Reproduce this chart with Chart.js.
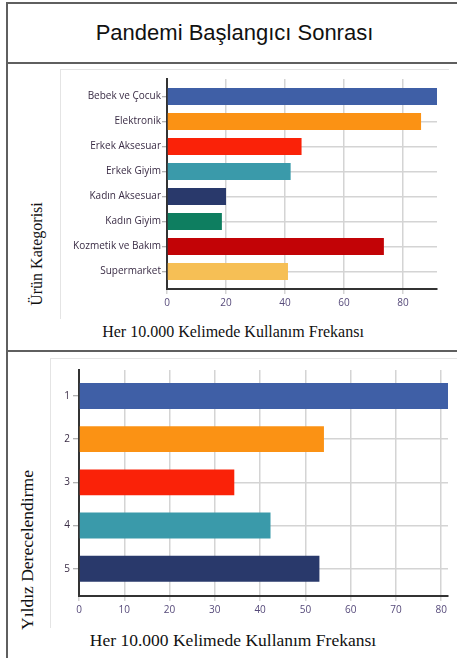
<!DOCTYPE html>
<html lang="tr">
<head>
<meta charset="utf-8">
<title>Pandemi Başlangıcı Sonrası</title>
<script src="https://cdn.jsdelivr.net/npm/chart.js@4/dist/chart.umd.min.js"></script>
<style>
  html, body { margin: 0; padding: 0; background: #fff; }
  body { width: 457px; height: 658px; position: relative; overflow: hidden; }
  .frame { position: absolute; left: 6px; top: 2px; width: 470px; height: 700px; border: 2px solid #5f5f5f; }
  .rule { position: absolute; left: 6px; width: 460px; height: 2px; background: #5f5f5f; }
  .heading {
    position: absolute; left: 0; width: 469px; top: 20px; text-align: center;
    font: 22px "Liberation Sans", Arial, sans-serif; color: #111;
  }
  .panel { position: absolute; border-left: 1px solid #e4e4e4; border-top: 1px solid #e4e4e4; }
  canvas { position: absolute; }
  .axis-title {
    position: absolute; white-space: nowrap; color: #111;
    font-family: "Liberation Serif", "Times New Roman", serif;
    transform: translate(-50%, -50%);
  }
  .axis-title.vertical { transform: translate(-50%, -50%) rotate(-90deg); }
</style>
</head>
<body>
<div class="frame"></div>
<div class="rule" style="top:62px"></div>
<div class="rule" style="top:350px"></div>
<div class="heading">Pandemi Başlangıcı Sonrası</div>

<div class="panel" style="left:60px; top:69px; width:388px; height:249px"></div>
<canvas id="category-chart" width="392" height="249" style="left:60px; top:69px"></canvas>
<div class="axis-title vertical" style="left:37px; top:254px; font-size:16px">Ürün Kategorisi</div>
<div class="axis-title" style="left:233px; top:332px; font-size:16px">Her 10.000 Kelimede Kullanım Frekansı</div>

<div class="panel" style="left:50px; top:358px; width:410px; height:269px"></div>
<canvas id="rating-chart" width="407" height="269" style="left:50px; top:358px"></canvas>
<div class="axis-title vertical" style="left:27px; top:550px; font-size:17.5px">Yıldız Derecelendirme</div>
<div class="axis-title" style="left:233px; top:640px; font-size:17.5px">Her 10.000 Kelimede Kullanım Frekansı</div>

<script>
const CATEGORIES = [
  "Bebek ve Çocuk",
  "Elektronik",
  "Erkek Aksesuar",
  "Erkek Giyim",
  "Kadın Aksesuar",
  "Kadın Giyim",
  "Kozmetik ve Bakım",
  "Supermarket",
];
const CATEGORY_FREQ = [91.5, 86.1, 45.6, 41.9, 20, 18.6, 73.5, 41];
const CATEGORY_TICKS = [0, 20, 40, 60, 80];

const RATINGS = ["1", "2", "3", "4", "5"];
const RATING_FREQ = [81.5, 54.1, 34.3, 42.3, 53.1];
const RATING_TICKS = [0, 10, 20, 30, 40, 50, 60, 70, 80];

const BAR_COLORS = [
  "#3f5fa6",
  "#fb9214",
  "#fa2208",
  "#3a9aaa",
  "#29396b",
  "#0e7e60",
  "#c20306",
  "#f6bf55",
];

const GRID_COLOR = "#d4d4d4";
const AXIS_COLOR = "#333333";
const LABEL_COLOR = "#3a2c45";
const TICK_COLOR = "#564a7a";

function drawBars(canvasId, labels, values, tickValues, layout) {
  const ctx = document.getElementById(canvasId);
  return new Chart(ctx, {
    type: "bar",
    data: {
      datasets: [
        {
          data: labels.map((_, i) => ({ x: values[i], y: i })),
          backgroundColor: labels.map((_, i) => BAR_COLORS[i % BAR_COLORS.length]),
          borderWidth: 0,
          categoryPercentage: 1,
          barPercentage: layout.barPct,
        },
      ],
    },
    options: {
      indexAxis: "y",
      responsive: false,
      animation: false,
      layout: { padding: { top: layout.top, right: layout.right, left: 0, bottom: 0 } },
      plugins: { legend: { display: false }, tooltip: { enabled: false } },
      scales: {
        y: {
          type: "linear",
          reverse: true,
          offset: false,
          min: -layout.edge[0],
          max: labels.length - 1 + layout.edge[1],
          afterBuildTicks: (axis) => {
            axis.ticks = labels.map((_, i) => ({ value: i }));
          },
          afterFit: (axis) => {
            axis.width = layout.yWidth;
          },
          ticks: {
            callback: (v) => labels[v],
            color: LABEL_COLOR,
            font: { family: "'Open Sans', sans-serif", size: layout.labelSize },
            padding: layout.labelPad,
          },
          grid: {
            offset: false,
            color: GRID_COLOR,
            lineWidth: 1.5,
            tickLength: layout.tickLen,
            tickColor: "#9a9a9a",
            tickWidth: 1,
          },
          border: { color: AXIS_COLOR, width: 2 },
        },
        x: {
          type: "linear",
          min: 0,
          max: Math.max(...values),
          afterBuildTicks: (axis) => {
            axis.ticks = tickValues.map((v) => ({ value: v }));
          },
          afterFit: (axis) => {
            axis.height = layout.xHeight;
          },
          ticks: {
            color: TICK_COLOR,
            font: { family: "'Open Sans', sans-serif", size: 10 },
            padding: 3,
            maxRotation: 0,
          },
          grid: { color: GRID_COLOR, lineWidth: 1.5, tickLength: 5, tickColor: GRID_COLOR },
          border: { color: AXIS_COLOR, width: 2 },
        },
      },
    },
  });
}

drawBars("category-chart", CATEGORIES, CATEGORY_FREQ, CATEGORY_TICKS, {
  top: 10,
  right: 15,
  yWidth: 107,
  xHeight: 29,
  edge: [0.7, 0.7],
  barPct: 0.68,
  labelSize: 10,
  labelPad: 1,
  tickLen: 5,
});

drawBars("rating-chart", RATINGS, RATING_FREQ, RATING_TICKS, {
  top: 12,
  right: 9,
  yWidth: 29,
  xHeight: 31,
  edge: [0.6, 0.63],
  barPct: 0.6,
  labelSize: 10,
  labelPad: 3,
  tickLen: 6,
});
</script>
</body>
</html>
